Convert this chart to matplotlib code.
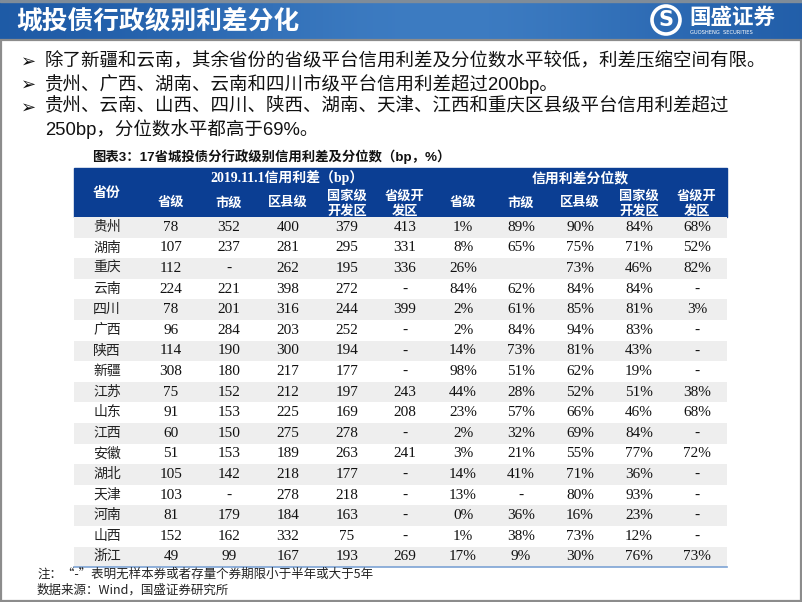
import numpy as np
import matplotlib
matplotlib.use("Agg")
import matplotlib.pyplot as plt
from matplotlib.patches import Rectangle, Circle

plt.rcParams['font.family'] = ['Noto Sans CJK SC', 'DejaVu Sans']

# ---- data -----------------------------------------------------------------
provinces = ["贵州", "湖南", "重庆", "云南", "四川", "广西", "陕西", "新疆", "江苏",
             "山东", "江西", "安徽", "湖北", "天津", "河南", "山西", "浙江"]

# 2019.11.1 credit spread (bp); None -> "-"
spread_prov = [78, 107, 112, 224, 78, 96, 114, 308, 75, 91, 60, 51, 105, 103, 81, 152, 49]
spread_city = [352, 237, None, 221, 201, 284, 190, 180, 152, 153, 150, 153, 142, None, 179, 162, 99]
spread_county = [400, 281, 262, 398, 316, 203, 300, 217, 212, 225, 275, 189, 218, 278, 184, 332, 167]
spread_natdev = [379, 295, 195, 272, 244, 252, 194, 177, 197, 169, 278, 263, 177, 218, 163, 75, 193]
spread_provdev = [413, 331, 336, None, 399, None, None, None, 243, 208, None, 241, None, None, None, None, 269]

# spread percentile (%); None -> "-", "" -> blank
pct_prov = [1, 8, 26, 84, 2, 2, 14, 98, 44, 23, 2, 3, 14, 13, 0, 1, 17]
pct_city = [89, 65, "", 62, 61, 84, 73, 51, 28, 57, 32, 21, 41, None, 36, 38, 9]
pct_county = [90, 75, 73, 84, 85, 94, 81, 62, 52, 66, 69, 55, 71, 80, 16, 73, 30]
pct_natdev = [84, 71, 46, 84, 81, 83, 43, 19, 51, 46, 84, 77, 36, 93, 23, 12, 76]
pct_provdev = [68, 52, 82, None, 3, None, None, None, 38, 68, None, 72, None, None, None, None, 73]

sub_headers = ["省级", "市级", "区县级", "国家级\n开发区", "省级开\n发区"]

bullets = [
    ["除了新疆和云南，其余省份的省级平台信用利差及分位数水平较低，利差压缩空间有限。"],
    ["贵州、广西、湖南、云南和四川市级平台信用利差超过200bp。"],
    ["贵州、云南、山西、四川、陕西、湖南、天津、江西和重庆区县级平台信用利差超过",
     "250bp，分位数水平都高于69%。"],
]


def fmt(v, suffix=""):
    if v is None:
        return "-"
    if v == "":
        return ""
    return f"{v}{suffix}"


# ---- canvas ---------------------------------------------------------------
fig = plt.figure(figsize=(8.02, 6.02), dpi=100)
ax = fig.add_axes([0, 0, 1, 1])
ax.set_xlim(0, 802)
ax.set_ylim(602, 0)
ax.axis("off")

# header band with a soft horizontal gradient
grad = np.linspace(0, 1, 256)
shape = np.exp(-((grad - 0.55) / 0.35) ** 2)
c0 = np.array([0x1c, 0x58, 0xa4]) / 255
c1 = np.array([0x3d, 0x7c, 0xc2]) / 255
img = c0[None, :] + (c1 - c0)[None, :] * shape[:, None]
ax.imshow(img[None, :, :], extent=[0, 802, 40, 0], aspect="auto", zorder=0)
ax.add_patch(Rectangle((0, 0), 802, 2, color="#7f8c99", zorder=1))

ax.text(16, 21, "城投债行政级别利差分化", color="white", fontsize=18.5,
        fontweight="bold", va="center", ha="left")

# logo
ax.add_patch(Circle((666, 20), 14, fill=False, ec="white", lw=2.6, zorder=3))
ax.text(666, 20.5, "S", color="white", fontsize=15, fontweight="bold",
        ha="center", va="center", family="DejaVu Sans", zorder=3)
ax.text(689, 17, "国盛证券", color="white", fontsize=15.5, fontweight="bold",
        ha="left", va="center")
ax.text(690, 32, "GUOSHENG  SECURITIES", color="white", fontsize=3.7,
        ha="left", va="center", family="DejaVu Sans")

# page border
ax.add_patch(Rectangle((0.8, 40), 800.4, 561, fill=False, ec="#8c8c8c", lw=1.6, zorder=1))

# bullets
sans = ["Liberation Sans", "Noto Sans CJK SC"]
y = 61
for lines in bullets:
    ax.text(21, y + 1, "➢", fontsize=13, va="center", ha="left", family="DejaVu Sans",
            color="#111111")
    for ln in lines:
        ax.text(45, y, ln, fontsize=13.3, va="center", ha="left", color="#111111", family=sans)
        y += 22.8

# chart title
ax.text(92, 157, "图表3：17省城投债分行政级别信用利差及分位数（bp，%）", fontsize=9.6,
        fontweight="bold", va="center", ha="left", color="#111111", family=sans)

# ---- table ----------------------------------------------------------------
tbl_left, tbl_right = 74, 727
head_top, head_bot = 168, 217
row_h = 20.6
col_x = [107, 171, 229, 288, 347, 405, 463, 521, 580, 639, 697]
serif = ["Liberation Serif", "Noto Sans CJK SC"]

ax.add_patch(Rectangle((tbl_left, head_top), tbl_right - tbl_left, head_bot - head_top,
                       color="#0b3e93", zorder=1))
ax.text(col_x[0], 193, "省份", color="white", fontsize=10, fontweight="bold",
        ha="center", va="center", family=serif)
ax.text(287, 178, "2019.11.1信用利差（bp）", color="white", fontsize=10, fontweight="bold",
        ha="center", va="center", family=serif)
ax.text(580, 178, "信用利差分位数", color="white", fontsize=10, fontweight="bold",
        ha="center", va="center", family=serif)
for k in range(10):
    lab = sub_headers[k % 5]
    ax.text(col_x[k + 1], 204 if "\n" in lab else 203, lab, color="white", fontsize=9.5,
            fontweight="bold", ha="center", va="center", family=serif, linespacing=1.25)

columns = [spread_prov, spread_city, spread_county, spread_natdev, spread_provdev,
           pct_prov, pct_city, pct_county, pct_natdev, pct_provdev]

for i, prov in enumerate(provinces):
    top = head_bot + i * row_h
    yc = top + row_h / 2
    if i % 2 == 0:
        ax.add_patch(Rectangle((tbl_left, top), tbl_right - tbl_left, row_h,
                               color="#eeeeee", lw=0, zorder=1))
    ax.text(col_x[0], yc, prov, fontsize=10, ha="center", va="center",
            color="#222222", family=serif)
    for k, col in enumerate(columns):
        s = fmt(col[i], "%" if k >= 5 else "")
        ax.text(col_x[k + 1], yc, s, fontsize=11, ha="center", va="center",
                color="#111111", family=serif)

bottom = head_bot + len(provinces) * row_h
ax.plot([tbl_left, tbl_right], [bottom, bottom], color="#7da3d4", lw=1.2, zorder=2)

# notes
ax.text(37, 574, "注：“-”表明无样本券或者存量个券期限小于半年或大于5年", fontsize=9,
        ha="left", va="center", color="#222222", family=["Noto Sans CJK SC", "DejaVu Sans"])
ax.text(37, 590, "数据来源：Wind，国盛证券研究所", fontsize=9,
        ha="left", va="center", color="#222222", family=["Noto Sans CJK SC", "DejaVu Sans"])

fig.savefig("out.png", dpi=100)
